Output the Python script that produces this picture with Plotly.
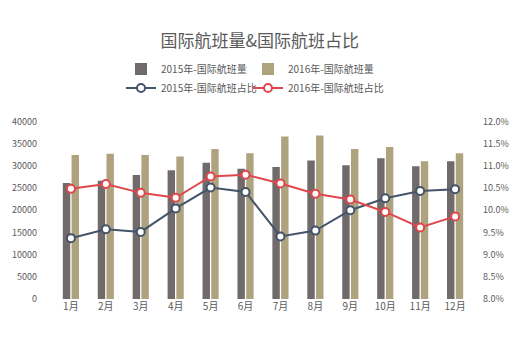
import plotly.graph_objects as go

months = ["1月", "2月", "3月", "4月", "5月", "6月", "7月", "8月", "9月", "10月", "11月", "12月"]
flights_2015 = [26100, 26600, 27900, 29000, 30700, 29300, 29700, 31200, 30100, 31700, 29900, 31000]
flights_2016 = [32400, 32700, 32400, 32100, 33800, 32800, 36600, 36800, 33800, 34200, 31000, 32800]
share_2015 = [9.37, 9.57, 9.51, 10.04, 10.51, 10.41, 9.41, 9.54, 10.00, 10.27, 10.43, 10.47]
share_2016 = [10.48, 10.59, 10.39, 10.28, 10.76, 10.80, 10.60, 10.37, 10.24, 9.96, 9.61, 9.86]

FONT = "Noto Sans CJK SC"
GREY = "#595959"

fig = go.Figure()
fig.add_trace(go.Bar(x=months, y=flights_2015, name="2015年-国际航班量",
                     marker=dict(color="#716a6b", line=dict(width=0)), legend="legend"))
fig.add_trace(go.Bar(x=months, y=flights_2016, name="2016年-国际航班量",
                     marker=dict(color="#aea27f", line=dict(width=0)), legend="legend2"))
fig.add_trace(go.Scatter(x=months, y=share_2015, name="2015年-国际航班占比", yaxis="y2",
                         mode="lines+markers", legend="legend3",
                         line=dict(color="#44546a", width=2),
                         marker=dict(size=8, color="white", line=dict(color="#44546a", width=2))))
fig.add_trace(go.Scatter(x=months, y=share_2016, name="2016年-国际航班占比", yaxis="y2",
                         mode="lines+markers", legend="legend4",
                         line=dict(color="#e0474c", width=2),
                         marker=dict(size=8, color="white", line=dict(color="#e0474c", width=2))))


def leg(xpx, ypx):
    return dict(orientation="h", x=xpx / 530, xanchor="left", y=1 - ypx / 354, yanchor="middle",
                yref="container", xref="container", font=dict(size=10, color=GREY),
                itemwidth=30, bgcolor="rgba(0,0,0,0)")


fig.update_layout(
    width=530, height=354,
    margin=dict(l=44, r=48, t=109, b=55),
    paper_bgcolor="white", plot_bgcolor="white",
    font=dict(family=FONT, color=GREY, size=9),
    title=dict(text="国际航班量&国际航班占比", x=0.49, xanchor="center", y=0.885, yanchor="middle",
               font=dict(size=17, color=GREY, family=FONT)),
    barmode="group", bargap=0.5, bargroupgap=0.15,
    xaxis=dict(showgrid=False, showline=False, ticks="", tickfont=dict(size=10, color=GREY)),
    yaxis=dict(range=[0, 40000], dtick=5000, showgrid=False, zeroline=False, showline=False,
               tickformat="d", tickfont=dict(size=9, color=GREY), ticklabelstandoff=6),
    yaxis2=dict(range=[8, 12], dtick=0.5, overlaying="y", side="right", showgrid=False,
                zeroline=False, showline=False, tickformat=".1f", ticksuffix="%",
                tickfont=dict(size=9, color=GREY)),
    legend=leg(121, 69),
    legend2=leg(248, 69),
    legend3=leg(121, 88),
    legend4=leg(248, 88),
    showlegend=True,
)

fig.write_html("out.html")
